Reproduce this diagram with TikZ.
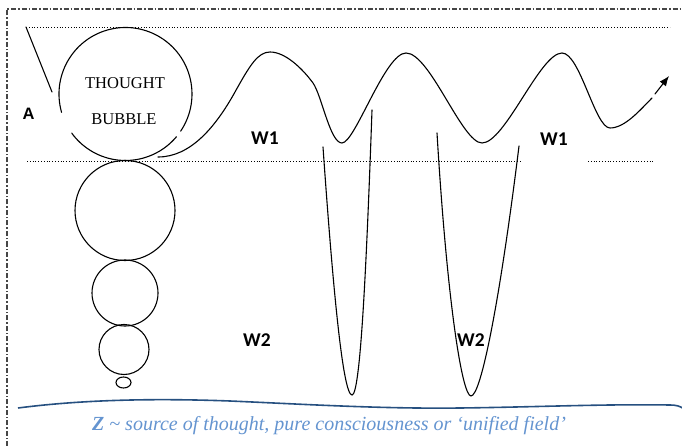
\documentclass[tikz,border=0pt]{standalone}
\usepackage{fontspec}
\setmainfont{Liberation Serif}
\newfontfamily\calibrifont{Carlito}
\newfontfamily\arialfont{Liberation Sans}
\usetikzlibrary{arrows.meta}
\definecolor{fieldblue}{RGB}{38,80,128}
\definecolor{sourceblue}{RGB}{100,148,208}
\definecolor{framegray}{RGB}{70,70,70}

\begin{document}
\begin{tikzpicture}[x=1pt, y=-1pt,
  wlabel/.style={font=\calibrifont\bfseries\fontsize{19.5}{19.5}\selectfont, inner sep=0pt},
  bubbletext/.style={font=\fontsize{16.5}{16.5}\selectfont, inner sep=0pt},
  levelline/.style={dotted, line width=0.8pt},
  wavepath/.style={line width=1.1pt, line cap=round}]
  \useasboundingbox (0,0) rectangle (682,446);

  % ── Frame (dash-dot, runs off the page) ───────────────────
  \draw[framegray, line width=1.3pt,
        dash pattern=on 5pt off 2pt on 1.5pt off 2pt]
    (7,446) -- (7,9) -- (682,9);

  % ── Level lines ───────────────────────────────────────────
  \draw[levelline] (26,27) -- (670,27);
  \draw[levelline] (27,161) -- (520,161);
  \draw[levelline] (588,161) -- (653,161);

  % Slanted line to the bubble
  \draw[wavepath] (26,27) -- (52,92);

  % ── Thought bubble (with two small breaks) ────────────────
  \coordinate (bubblec) at (125.5,94);
  \draw[wavepath] (bubblec) ++(40:66.5)
    arc[start angle=40, end angle=144, radius=66.5];
  \draw[wavepath] (bubblec) ++(164:66.5)
    arc[start angle=164, end angle=394, radius=66.5];
  \node[bubbletext] (thought) at (125,83) {THOUGHT};
  \node[bubbletext] (bubble) at (124,119) {BUBBLE};

  % Smaller bubbles below
  \draw[wavepath] (125,210.5) circle (50);
  \draw[wavepath] (125,293) circle (33);
  \draw[wavepath] (124,349.5) circle (25);
  \draw[wavepath] (123.5,382.5) ellipse (7.5 and 5.5);

  % ── Thought wave W1 ───────────────────────────────────────
  \draw[wavepath] (158,157) .. controls (190,157) and (215,128) .. (235,92)
    .. controls (250,65) and (258,52) .. (270,52)
    .. controls (285,52) and (302,68) .. (313,83)
    .. controls (322,96) and (330,143) .. (342,143)
    .. controls (355,143) and (385,53) .. (406,53)
    .. controls (430,53) and (462,143) .. (482,143)
    .. controls (505,143) and (540,53) .. (562,53)
    .. controls (580,53) and (595,128) .. (610,128)
    .. controls (625,128) and (640,110) .. (652,98);
  \draw[wavepath, -{Latex[length=10pt, width=8pt]}] (655,94) -- (669,76);

  % ── Deep wells W2 ─────────────────────────────────────────
  \draw[wavepath] (323,147) .. controls (333,290) and (343,395) .. (352,395)
    .. controls (360,395) and (366,280) .. (372,110);
  \draw[wavepath] (437,133) .. controls (447,300) and (462,396) .. (471,396)
    .. controls (481,396) and (500,300) .. (519,146);

  % ── Labels ────────────────────────────────────────────────
  \node[font=\arialfont\bfseries\fontsize{16.5}{16.5}\selectfont, inner sep=0pt]
    (labela) at (28.5,114) {A};
  \node[wlabel] (wonea) at (265,138.5) {W1};
  \node[wlabel] (woneb) at (554,139) {W1};
  \node[wlabel] (wtwoa) at (257,340) {W2};
  \node[wlabel] (wtwob) at (471,340) {W2};

  % ── Field Z ───────────────────────────────────────────────
  \draw[fieldblue, line width=1.6pt] (18,408)
    .. controls (80,400) and (150,398) .. (230,401)
    .. controls (300,404) and (380,409) .. (460,408)
    .. controls (540,407) and (600,404) .. (670,405)
    .. controls (676,405) and (680,406) .. (684,409);
  \node[font=\itshape\fontsize{20}{20}\selectfont, text=sourceblue,
        anchor=base west, inner sep=0pt] (source) at (92,430)
    {\textbf{Z} \textasciitilde{} source of thought, pure consciousness or ‘unified field’};
\end{tikzpicture}
\end{document}
